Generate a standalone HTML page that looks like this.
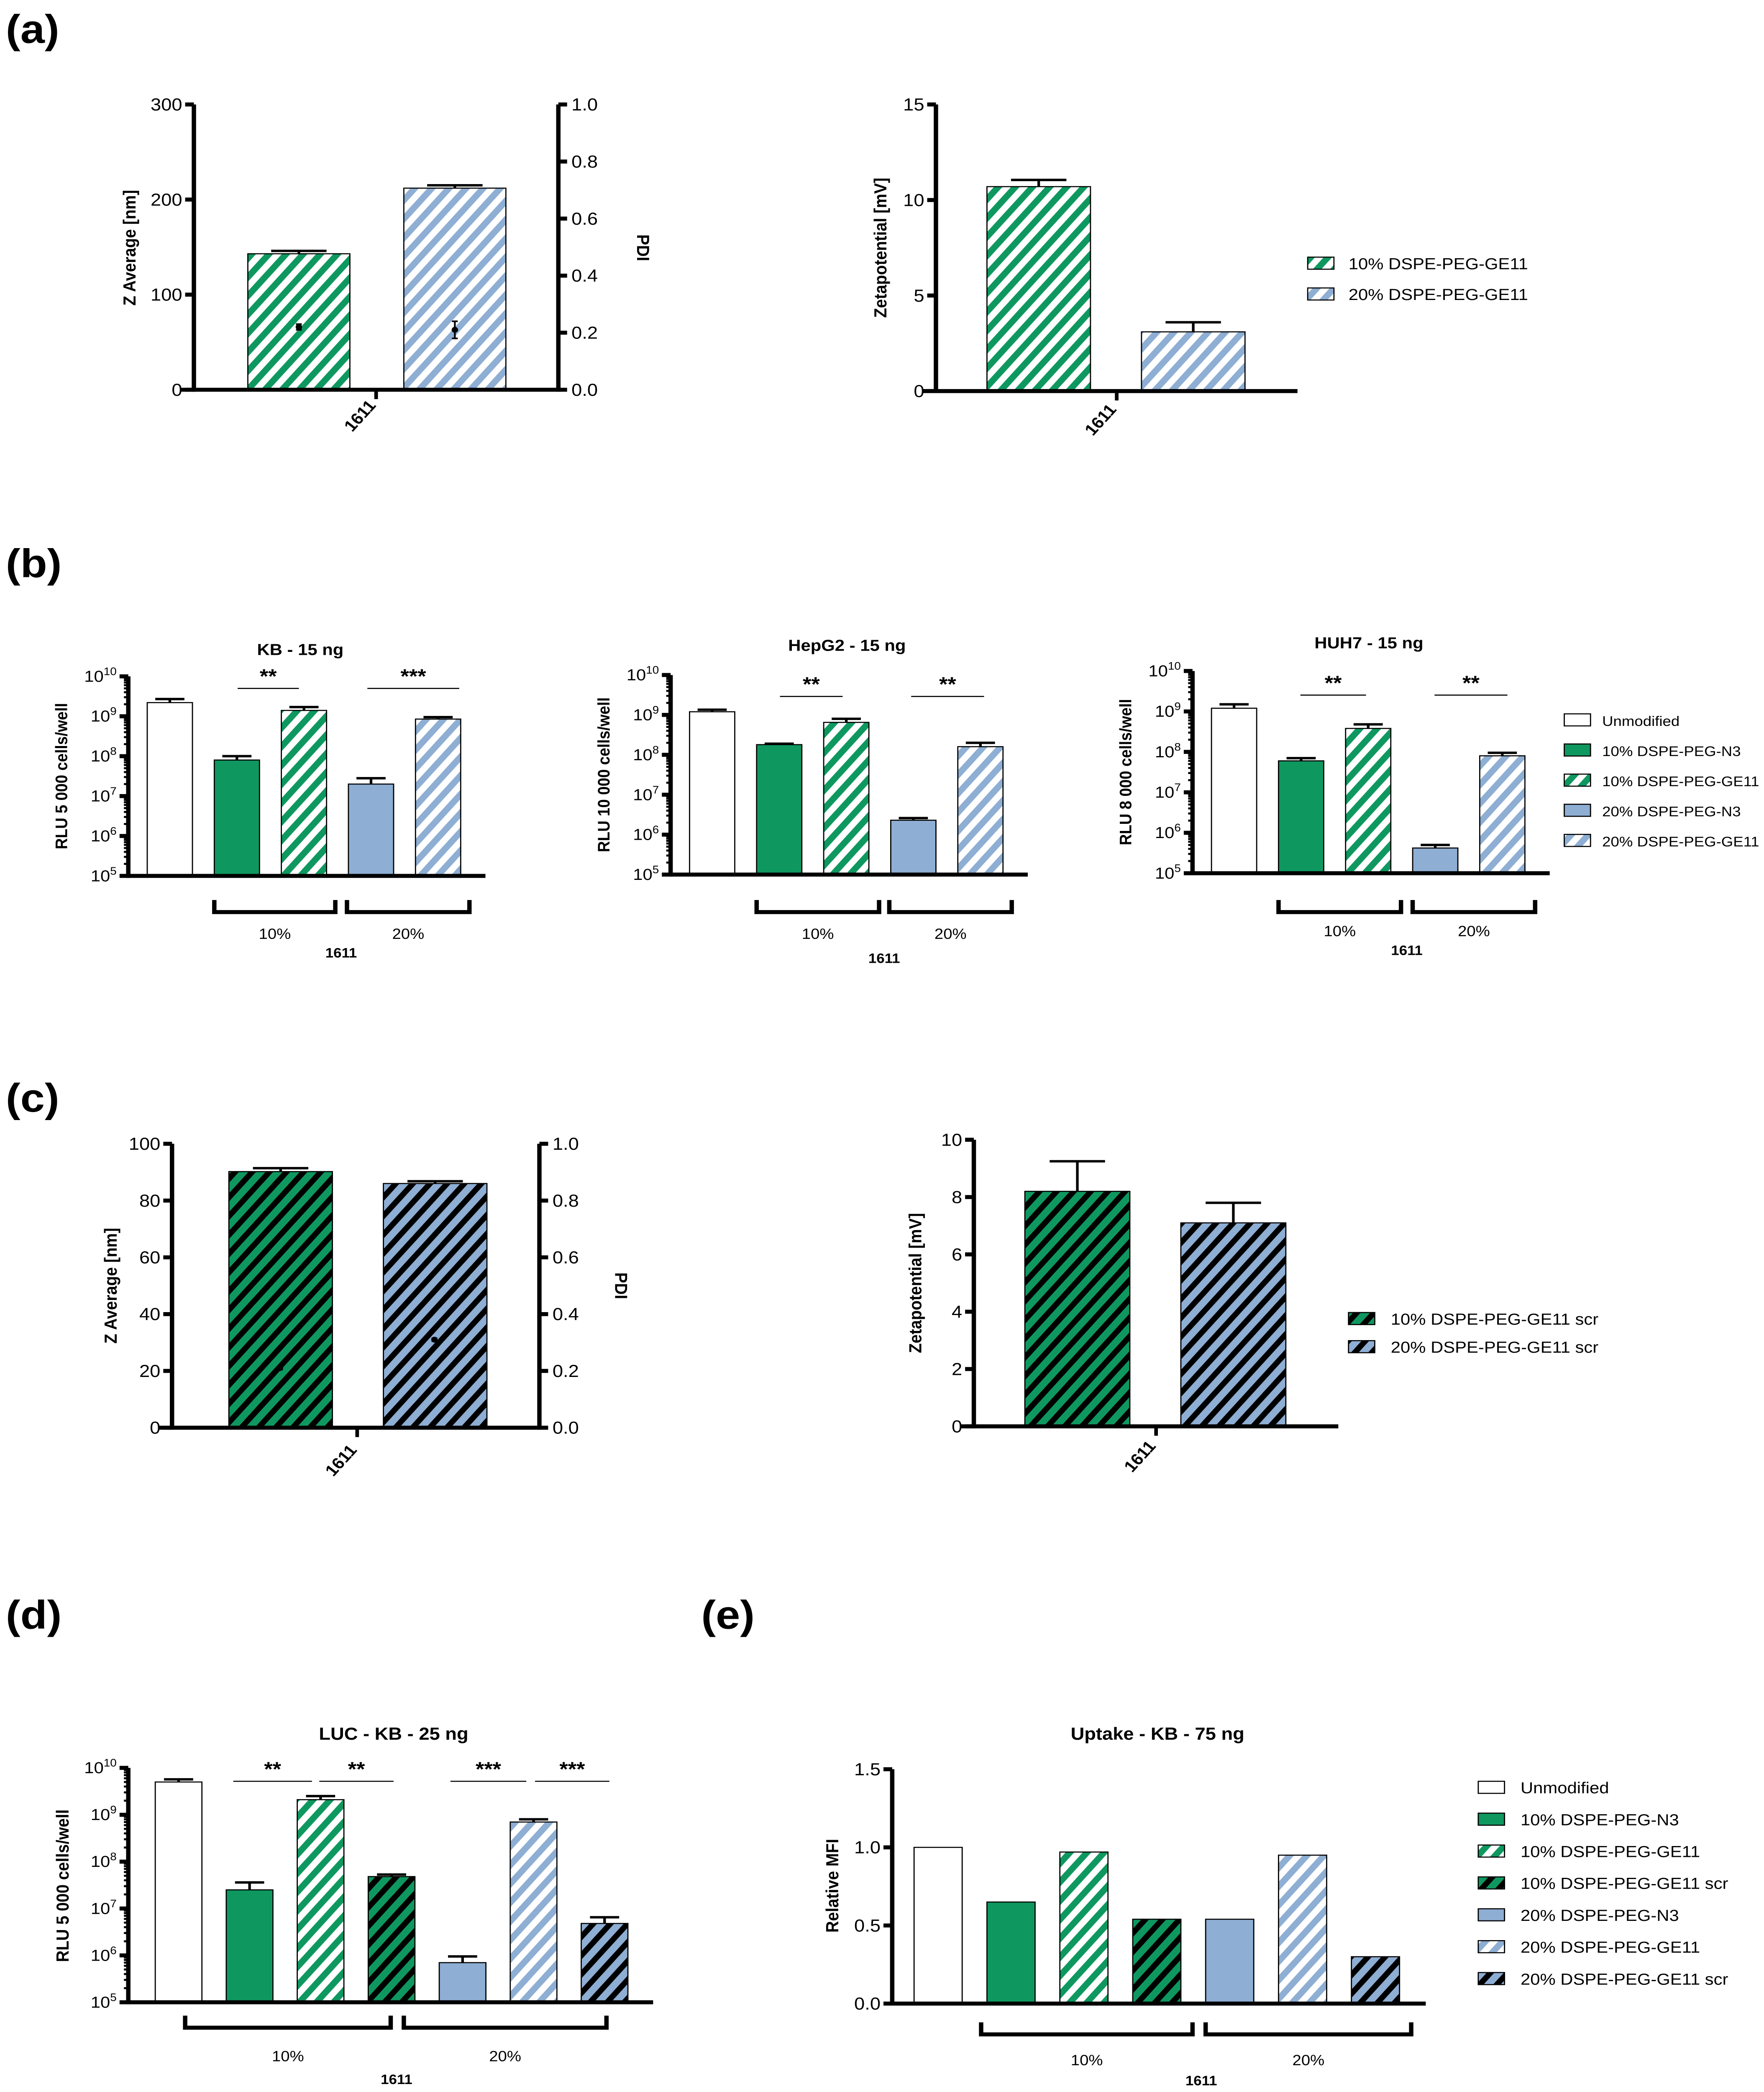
<!DOCTYPE html>
<html><head><meta charset="utf-8">
<style>
html,body{margin:0;padding:0;background:#fff;overflow:hidden;width:100vw;height:100vh;}
svg{display:block;font-family:"Liberation Sans",sans-serif;width:100vw;height:100vh;}
</style></head>
<body>
<svg id="fig" xmlns="http://www.w3.org/2000/svg" viewBox="0 0 1210 1562" preserveAspectRatio="none">
<defs>
<pattern id="pGS" width="9" height="9" patternUnits="userSpaceOnUse" patternTransform="rotate(40)"><rect width="9" height="9" fill="#fff"/><rect width="4.5" height="9" fill="#0e9860"/></pattern>
<pattern id="pBS" width="9" height="9" patternUnits="userSpaceOnUse" patternTransform="rotate(40)"><rect width="9" height="9" fill="#fff"/><rect width="4.5" height="9" fill="#8eaed3"/></pattern>
<pattern id="pGK" width="9" height="9" patternUnits="userSpaceOnUse" patternTransform="rotate(40)"><rect width="9" height="9" fill="#0e9860"/><rect width="4" height="9" fill="#000"/></pattern>
<pattern id="pBK" width="9" height="9" patternUnits="userSpaceOnUse" patternTransform="rotate(40)"><rect width="9" height="9" fill="#8eaed3"/><rect width="4" height="9" fill="#000"/></pattern>
</defs>
<g font-weight="bold" font-size="30">
<text x="4" y="32">(a)</text>
<text x="4" y="431">(b)</text>
<text x="4" y="830">(c)</text>
<text x="4" y="1216">(d)</text>
<text x="481" y="1216">(e)</text>
</g>
</svg>
<script>
// ---- data ----
const aCats = ["10% DSPE-PEG-GE11","20% DSPE-PEG-GE11"];
const aZavg = [143, 212];
const aZavgErr = [3, 3];
const aPdi = [0.22, 0.21];
const aPdiErr = [0.01, 0.03];
const aZeta = [10.7, 3.1];
const aZetaErr = [0.35, 0.5];

const bCats = ["Unmodified","10% DSPE-PEG-N3","10% DSPE-PEG-GE11","20% DSPE-PEG-N3","20% DSPE-PEG-GE11"];
const bKB = [2.2e9, 8e7, 1.4e9, 2e7, 8.5e8];
const bKBErr = [2.7e9, 1.0e8, 1.7e9, 2.8e7, 9.5e8];
const bHep = [1.2e9, 1.8e8, 6.5e8, 2.3e6, 1.6e8];
const bHepErr = [1.35e9, 1.9e8, 8e8, 2.6e6, 2.0e8];
const bHuh = [1.2e9, 6e7, 3.8e8, 4.2e5, 8e7];
const bHuhErr = [1.5e9, 7e7, 4.8e8, 5e5, 9.5e7];

const cCats = ["10% DSPE-PEG-GE11 scr","20% DSPE-PEG-GE11 scr"];
const cZavg = [90.2, 86];
const cZavgErr = [1.2, 0.8];
const cPdi = [0.21, 0.31];
const cPdiErr = [0.005, 0.005];
const cZeta = [8.2, 7.1];
const cZetaErr = [1.05, 0.7];

const dCats = ["Unmodified","10% DSPE-PEG-N3","10% DSPE-PEG-GE11","10% DSPE-PEG-GE11 scr","20% DSPE-PEG-N3","20% DSPE-PEG-GE11","20% DSPE-PEG-GE11 scr"];
const dLuc = [5e9, 2.5e7, 2.1e9, 4.8e7, 7e5, 7e8, 4.8e6];
const dLucErr = [5.7e9, 3.6e7, 2.5e9, 5.3e7, 9.5e5, 8e8, 6.5e6];
const eMfi = [1.0, 0.65, 0.97, 0.54, 0.54, 0.95, 0.30];

const linTicksA = [0,100,200,300];
const pdiTicks = [0,0.2,0.4,0.6,0.8,1.0];
const zetaTicksA = [0,5,10,15];
const linTicksC = [0,20,40,60,80,100];
const zetaTicksC = [0,2,4,6,8,10];
const logDecades = [5,6,7,8,9,10];
const mfiTicks = [0,0.5,1.0,1.5];

const fills5 = ["#fff","#0e9860","url(#pGS)","#8eaed3","url(#pBS)"];
const fills7 = ["#fff","#0e9860","url(#pGS)","url(#pGK)","#8eaed3","url(#pBS)","url(#pBK)"];

// ---- helpers ----
const NS = "http://www.w3.org/2000/svg";
const svg = document.getElementById('fig');
function mk(tag, a, p){ const e=document.createElementNS(NS,tag); for(const k in a) e.setAttribute(k,a[k]); (p||svg).appendChild(e); return e; }
function tx(x,y,s,a){ const e=mk('text',Object.assign({x:x,y:y},a||{})); e.textContent=s; return e; }
function lin(v0,v1,p0,p1){ return v=>p0+(v-v0)/(v1-v0)*(p1-p0); }
function logS(y5,y10){ return v=>y5-(Math.log10(v)-5)/5*(y5-y10); }

function axisLinY(x, y, ticks, fmt, side, name){
  const g=mk('g',{});
  
  
  const a=ticks[0], b=ticks[ticks.length-1];
  mk('line',{x1:x,x2:x,y1:y(a)+1.5,y2:y(b),stroke:'#000','stroke-width':3},g);
  ticks.forEach(t=>{
    const dx = side<0?-6:6;
    mk('line',{x1:x,x2:x+dx,y1:y(t),y2:y(t),stroke:'#000','stroke-width':3},g);
    const l=tx(x+(side<0?-8:9),y(t)+4.5,fmt(t),{'font-size':13,'text-anchor':side<0?'end':'start'});
    
    
    g.appendChild(l);
  });
}
function axisLogY(x, y, name){
  const g=mk('g',{});
  
  
  mk('line',{x1:x,x2:x,y1:y(1e5)+1.5,y2:y(1e10),stroke:'#000','stroke-width':3},g);
  logDecades.forEach(d=>{
    const yy=y(Math.pow(10,d));
    mk('line',{x1:x,x2:x-6,y1:yy,y2:yy,stroke:'#000','stroke-width':3},g);
    const l=tx(x-8,yy+4,'',{'font-size':12,'text-anchor':'end'});
    
    
    const t1=mk('tspan',{},l); t1.textContent='10';
    const t2=mk('tspan',{dy:-5,'font-size':8},l); t2.textContent=String(d);
    g.appendChild(l);
    if(d<10) for(let m=2;m<10;m++){ const ym=y(m*Math.pow(10,d)); mk('line',{x1:x,x2:x-3,y1:ym,y2:ym,stroke:'#000','stroke-width':1.5},g); }
  });
}
function xAxis(x0,x1,y,name){
  const l=mk('line',{x1:x0,x2:x1,y1:y,y2:y,stroke:'#000','stroke-width':3});
  
  
}
function bars(x0,pitch,w,vals,errs,fills,y,base,cap){
  vals.forEach((v,i)=>{
    const x=x0+i*pitch, top=y(v);
    const r=mk('rect',{x:x,y:top,width:w,height:base-top,fill:fills[i],stroke:'#000','stroke-width':0.8});
    
    
    if(errs){
      const ye=y(errs[i]); const cx=x+w/2;
      const e=mk('path',{d:`M${cx},${top}V${ye}M${cx-cap},${ye}H${cx+cap}`,stroke:'#000','stroke-width':1.8,fill:'none'});
      
      
    }
  });
}
function pdiPts(xs,vals,errs,y){
  vals.forEach((v,i)=>{
    const c=mk('circle',{cx:xs[i],cy:y(v),r:2.2,fill:'#000'});
    
    
    const e=mk('path',{d:`M${xs[i]},${y(v-errs[i])}V${y(v+errs[i])}M${xs[i]-2},${y(v-errs[i])}h4M${xs[i]-2},${y(v+errs[i])}h4`,stroke:'#000','stroke-width':1.2,fill:'none'});
    
    
  });
}
function rotText(x,y,s,ang,size,name){
  const t=tx(0,0,s,{'font-size':size,'font-weight':'bold','text-anchor':'middle',transform:`translate(${x},${y}) rotate(${ang})`});
  
  
}
function plain(x,y,s,size,name,bold,anchor){
  const t=tx(x,y,s,{'font-size':size,'font-weight':bold?'bold':'normal','text-anchor':anchor||'middle'});
  
  
}
function sig(x1,x2,y,s){
  const l=mk('line',{x1:x1,x2:x2,y1:y,y2:y,stroke:'#000','stroke-width':0.8});
  
  
  plain((x1+x2)/2,y-4,s,15,'significance-stars',true);
}
function bracket(x1,x2,y,lbl,ly){
  const p=mk('path',{d:`M${x1},${y}V${y+9}H${x2}V${y}`,stroke:'#000','stroke-width':3,fill:'none'});
  
  
  plain((x1+x2)/2,ly,lbl,11,'group-label',false);
}
function legend(x,y0,dy,labels,fills,tx0,size){
  labels.forEach((s,i)=>{
    const y=y0+i*dy;
    const r=mk('rect',{x:x,y:y-5,width:18,height:9,fill:fills[i],stroke:'#000','stroke-width':0.8});
    
    
    const t=tx(tx0,y+4,s,{'font-size':size});
    
    
  });
}

// ---- panel a ----
{
  const y=lin(0,300,291,78), yr=lin(0,1,291,78);
  bars(170,107,70,aZavg,aZavg.map((v,i)=>v+aZavgErr[i]),["url(#pGS)","url(#pBS)"],y,291,19);
  pdiPts([205,312],aPdi,aPdiErr,yr);
  axisLinY(133,y,linTicksA,String,-1,'a-left-y-axis');
  axisLinY(383,yr,pdiTicks,v=>v.toFixed(1),1,'a-pdi-axis');
  xAxis(124,383,291,'a-left-x-axis');
  mk('line',{x1:258,x2:258,y1:291,y2:298,stroke:'#000','stroke-width':2.5});
  rotText(93,185,'Z Average [nm]',-90,12,'a-y-axis-title');
  rotText(437,185,'PDI',90,12,'a-pdi-axis-title');
  rotText(250,313,'1611',-50,12,'a-x-category');
  const z=lin(0,15,292,78);
  bars(677,106,71,aZeta,aZeta.map((v,i)=>v+aZetaErr[i]),["url(#pGS)","url(#pBS)"],z,292,19);
  axisLinY(642,z,zetaTicksA,String,-1,'a-zeta-y-axis');
  xAxis(633,890,292,'a-zeta-x-axis');
  mk('line',{x1:766,x2:766,y1:292,y2:299,stroke:'#000','stroke-width':2.5});
  rotText(608,185,'Zetapotential [mV]',-90,12,'a-zeta-y-title');
  rotText(758,316,'1611',-50,12,'a-zeta-x-category');
  legend(897,197,23,aCats,["url(#pGS)","url(#pBS)"],925,12);
}
// ---- panel b ----
function panelB(ax,y10,y5,x0,vals,errs,title,tx0,ty,ylab,sy,sig1,sig2,s2,br1,br2,ly,l16,name){
  const y=logS(y5,y10);
  bars(x0,46,31,vals,errs,fills5,y,y5,10);
  axisLogY(ax,y,name+'-y-axis');
  xAxis(ax,ax+245,y5,name+'-x-axis');
  plain(tx0,ty,title,12,name+'-title',true);
  rotText(ax-42,(y10+y5)/2,ylab,-90,11.5,name+'-y-title');
  sig(sig1[0],sig1[1],sy,'**');
  sig(sig2[0],sig2[1],sy,s2);
  bracket(br1[0],br1[1],672,'10%',ly);
  bracket(br2[0],br2[1],672,'20%',ly);
  plain((br1[1]+br2[0])/2,l16,'1611',10,name+'-x-title',true);
}
panelB(88,505,654,101,bKB,bKBErr,'KB - 15 ng',206,489,'RLU 5 000 cells/well',514,[163,205],[252,315],'***',[147,230],[238,322],701,715,'kb');
panelB(460,504,653,473,bHep,bHepErr,'HepG2 - 15 ng',581,486,'RLU 10 000 cells/well',520,[535,578],[625,675],'**',[519,603],[610,694],701,719,'hepg2');
panelB(818,501,652,831,bHuh,bHuhErr,'HUH7 - 15 ng',939,484,'RLU 8 000 cells/well',519,[892,937],[984,1034],'**',[877,961],[969,1053],699,713,'huh7');
legend(1073,538,22.5,bCats,fills5,1099,10.5);

// ---- panel c ----
{
  const y=lin(0,100,1066,854), yr=lin(0,1,1066,854);
  bars(157,106,71,cZavg,cZavg.map((v,i)=>v+cZavgErr[i]),["url(#pGK)","url(#pBK)"],y,1066,19);
  pdiPts([192,298],cPdi,cPdiErr,yr);
  axisLinY(118,y,linTicksC,String,-1,'c-left-y-axis');
  axisLinY(370,yr,pdiTicks,v=>v.toFixed(1),1,'c-pdi-axis');
  xAxis(109,370,1066,'c-left-x-axis');
  mk('line',{x1:245,x2:245,y1:1066,y2:1073,stroke:'#000','stroke-width':2.5});
  rotText(80,960,'Z Average [nm]',-90,12,'c-y-axis-title');
  rotText(422,960,'PDI',90,12,'c-pdi-axis-title');
  rotText(237,1093,'1611',-50,12,'c-x-category');
  const z=lin(0,10,1065,851);
  bars(703,107,72,cZeta,cZeta.map((v,i)=>v+cZetaErr[i]),["url(#pGK)","url(#pBK)"],z,1065,19);
  axisLinY(668,z,zetaTicksC,String,-1,'c-zeta-y-axis');
  xAxis(659,918,1065,'c-zeta-x-axis');
  mk('line',{x1:793,x2:793,y1:1065,y2:1072,stroke:'#000','stroke-width':2.5});
  rotText(632,958,'Zetapotential [mV]',-90,12,'c-zeta-y-title');
  rotText(785,1090,'1611',-50,12,'c-zeta-x-category');
  legend(925,985,21,cCats,["url(#pGK)","url(#pBK)"],954,12);
}
// ---- panel d ----
{
  const y=logS(1495,1320);
  bars(106.5,48.7,32,dLuc,dLucErr,fills7,y,1495,10);
  axisLogY(88,y,'d-y-axis');
  xAxis(88,448,1495,'d-x-axis');
  plain(270,1299,'LUC - KB - 25 ng',13,'d-title',true);
  rotText(47,1408,'RLU 5 000 cells/well',-90,12,'d-y-title');
  sig(160,214,1330,'**'); sig(219,270,1330,'**');
  sig(309,361,1330,'***'); sig(367,418,1330,'***');
  bracket(127,268,1505,'10%',1539);
  bracket(277,416,1505,'20%',1539);
  plain(272,1556,'1611',10,'d-x-title',true);
}
// ---- panel e ----
{
  const y=lin(0,1.5,1496,1321);
  bars(627,50,33,eMfi,null,fills7,y,1496,0);
  axisLinY(612,y,mfiTicks,v=>v.toFixed(1),-1,'e-y-axis');
  xAxis(612,978,1496,'e-x-axis');
  plain(794,1299,'Uptake - KB - 75 ng',13,'e-title',true);
  rotText(575,1408,'Relative MFI',-90,12,'e-y-title');
  bracket(673,818,1510,'10%',1542);
  bracket(827,968,1510,'20%',1542);
  plain(824,1557,'1611',10,'e-x-title',true);
  legend(1014,1335,23.8,dCats,fills7,1043,12);
}
</script>
</body></html>
